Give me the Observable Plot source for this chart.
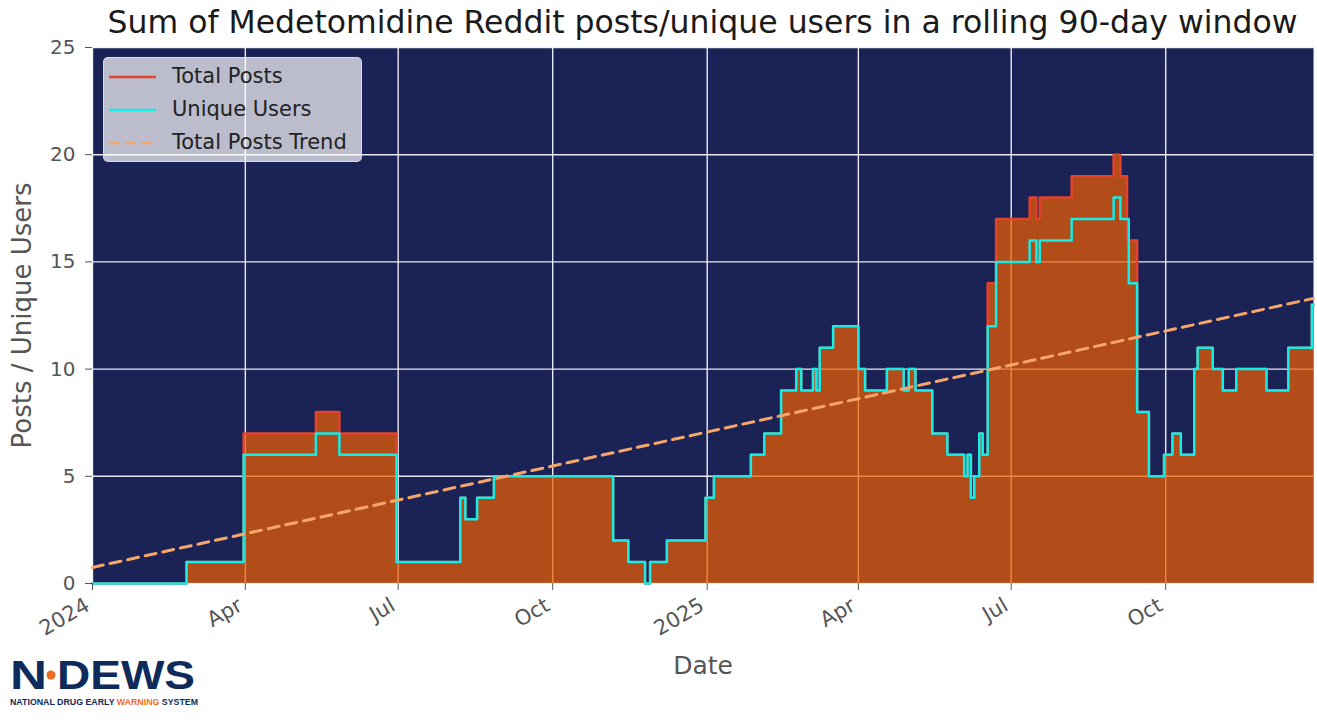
<!DOCTYPE html>
<html>
<head>
<meta charset="utf-8">
<script src="https://cdn.jsdelivr.net/npm/d3@7"></script>
<script src="https://cdn.jsdelivr.net/npm/@observablehq/plot@0.6"></script>
<style>
  html, body { margin: 0; padding: 0; background: #fff; }
  #wrap { position: relative; width: 1317px; height: 721px; overflow: hidden; font-family: "DejaVu Sans", sans-serif; }
  #title { position: absolute; left: 92px; top: 0; width: 1221px; height: 40px; line-height: 44px; text-align: center; font-size: 31.5px; color: #1a1a1a; white-space: nowrap; }
  #chart { position: absolute; left: 0; top: 40px; }
  #legend { position: absolute; left: 103px; top: 57px; width: 259px; height: 105px; background: rgba(255,255,255,0.70); border: 1px solid rgba(230,230,235,0.8); border-radius: 5px; box-sizing: border-box; }
  .row { position: absolute; left: 0; height: 30px; width: 100%; }
  .row svg { position: absolute; left: 4px; top: 8px; }
  .row span { position: absolute; left: 68px; top: 2px; font-size: 21px; color: #222; white-space: nowrap; }
  #logo { position: absolute; left: 0; top: 648px; }
</style>
</head>
<body>
<div id="wrap">
  <div id="title">Sum of Medetomidine Reddit posts/unique users in a rolling 90-day window</div>
  <div id="chart"></div>
  <div id="legend">
    <div class="row" style="top:4px"><svg width="50" height="14"><line x1="1" y1="7" x2="48" y2="7" stroke="#e2432b" stroke-width="2.5"/></svg><span>Total Posts</span></div>
    <div class="row" style="top:37px"><svg width="50" height="14"><line x1="1" y1="7" x2="48" y2="7" stroke="#14ece6" stroke-width="2.5"/></svg><span>Unique Users</span></div>
    <div class="row" style="top:70px"><svg width="50" height="14"><line x1="1" y1="7" x2="48" y2="7" stroke="#f6a66b" stroke-width="2.5" stroke-dasharray="10,6"/></svg><span>Total Posts Trend</span></div>
  </div>
  <svg id="logo" width="220" height="70">
    <text x="10" y="41" font-family="Liberation Sans, Arial, sans-serif" font-weight="bold" font-size="40" fill="#0f2b5b" textLength="37" lengthAdjust="spacingAndGlyphs">N</text>
    <circle cx="51" cy="27" r="4.5" fill="#f26b21"/>
    <text x="57" y="41" font-family="Liberation Sans, Arial, sans-serif" font-weight="bold" font-size="40" fill="#0f2b5b" textLength="138" lengthAdjust="spacingAndGlyphs">DEWS</text>
    <text x="10" y="57" font-family="Liberation Sans, Arial, sans-serif" font-weight="bold" font-size="9" fill="#0f2b5b" textLength="188" lengthAdjust="spacingAndGlyphs">NATIONAL DRUG EARLY <tspan fill="#f26b21">WARNING</tspan> SYSTEM</text>
  </svg>
</div>
<script>
// ---- Data ----
const totalDates = ["2024-01-01","2024-02-26","2024-03-31","2024-05-13","2024-05-27","2024-06-30","2024-08-07","2024-08-10","2024-08-17","2024-08-27","2024-11-06","2024-11-15","2024-11-25","2024-11-28","2024-12-08","2024-12-31","2025-01-05","2025-01-27","2025-02-04","2025-02-14","2025-02-23","2025-02-26","2025-03-05","2025-03-07","2025-03-09","2025-03-17","2025-04-01","2025-04-05","2025-04-18","2025-04-28","2025-05-01","2025-05-05","2025-05-15","2025-05-24","2025-06-03","2025-06-05","2025-06-07","2025-06-09","2025-06-12","2025-06-14","2025-06-17","2025-06-22","2025-07-12","2025-07-16","2025-07-18","2025-08-06","2025-08-31","2025-09-04","2025-09-08","2025-09-14","2025-09-21","2025-09-30","2025-10-05","2025-10-10","2025-10-18","2025-10-20","2025-10-29","2025-11-04","2025-11-12","2025-11-30","2025-12-13","2025-12-27","2025-12-28"];
const totalValues = [0,1,7,8,7,1,4,3,4,5,2,1,0,1,2,4,5,6,7,9,10,9,10,9,11,12,10,9,10,9,10,9,7,6,5,6,4,5,7,6,14,17,18,17,18,19,20,19,16,8,5,6,7,6,10,11,10,9,10,9,11,13,13];

const userDates = ["2024-01-01","2024-02-26","2024-03-31","2024-05-13","2024-05-27","2024-06-30","2024-08-07","2024-08-10","2024-08-17","2024-08-27","2024-11-06","2024-11-15","2024-11-25","2024-11-28","2024-12-08","2024-12-31","2025-01-05","2025-01-27","2025-02-04","2025-02-14","2025-02-23","2025-02-26","2025-03-05","2025-03-07","2025-03-09","2025-03-17","2025-04-01","2025-04-05","2025-04-18","2025-04-28","2025-05-01","2025-05-05","2025-05-15","2025-05-24","2025-06-03","2025-06-05","2025-06-07","2025-06-09","2025-06-12","2025-06-14","2025-06-17","2025-06-22","2025-07-12","2025-07-16","2025-07-18","2025-08-06","2025-08-31","2025-09-04","2025-09-09","2025-09-14","2025-09-21","2025-09-30","2025-10-05","2025-10-10","2025-10-18","2025-10-20","2025-10-29","2025-11-04","2025-11-12","2025-11-30","2025-12-13","2025-12-27","2025-12-28"];
const userValues = [0,1,6,7,6,1,4,3,4,5,2,1,0,1,2,4,5,6,7,9,10,9,10,9,11,12,10,9,10,9,10,9,7,6,5,6,4,5,7,6,12,15,16,15,16,17,18,17,14,8,5,6,7,6,10,11,10,9,10,9,11,13,13];

const trendDates = ["2024-01-01","2025-12-28"];
const trendValues = [0.75, 13.3];

const xTickDates = ["2024-01-01","2024-04-01","2024-07-01","2024-10-01","2025-01-01","2025-04-01","2025-07-01","2025-10-01"];
const xTickLabels = ["2024","Apr","Jul","Oct","2025","Apr","Jul","Oct"];
const yTicks = [0,5,10,15,20,25];

// ---- Build tables ----
const toRows = (dates, values) => dates.map((d, i) => ({date: new Date(d), value: values[i]}));
const total = toRows(totalDates, totalValues);
const users = toRows(userDates, userValues);
const trend = toRows(trendDates, trendValues);
const xTicks = xTickDates.map(d => new Date(d));

const chart = Plot.plot({
  width: 1317,
  height: 681,
  marginTop: 7,
  marginLeft: 92,
  marginRight: 4,
  marginBottom: 138,
  style: {fontFamily: "DejaVu Sans, sans-serif", background: "transparent", color: "#555", overflow: "visible"},
  x: {type: "utc", domain: [new Date("2024-01-01"), new Date("2025-12-28")]},
  y: {domain: [0, 25]},
  marks: [
    Plot.frame({fill: "#1b2255", stroke: null}),
    Plot.ruleY(yTicks, {stroke: "white", strokeWidth: 1.4, strokeOpacity: 0.9}),
    Plot.ruleX(xTicks, {stroke: "white", strokeWidth: 1.4, strokeOpacity: 0.9}),
    Plot.areaY(total, {x: "date", y: "value", curve: "step-after", fill: "#f15f02", fillOpacity: 0.71}),
    Plot.line(total, {x: "date", y: "value", curve: "step-after", stroke: "#e2432b", strokeWidth: 2.5}),
    Plot.line(users, {x: "date", y: "value", curve: "step-after", stroke: "#14ece6", strokeWidth: 2.5}),
    Plot.line(trend, {x: "date", y: "value", stroke: "#f6a66b", strokeWidth: 3, strokeDasharray: "11,7"}),
    Plot.axisY({ticks: yTicks, tickSize: 7, tickPadding: 10, fontSize: 20, label: null}),
    Plot.axisX({ticks: xTicks, tickSize: 7, tickFormat: () => "", label: null}),
    Plot.text(xTicks, {x: d => d, text: (d, i) => xTickLabels[i], frameAnchor: "bottom", rotate: -30, textAnchor: "end", lineAnchor: "top", dx: -9, dy: 13, fontSize: 21, fill: "#555"}),
    Plot.text(["Posts / Unique Users"], {text: d => d, frameAnchor: "left", textAnchor: "middle", rotate: -90, dx: -70, fontSize: 26, fill: "#555"}),
    Plot.text(["Date"], {text: d => d, frameAnchor: "bottom", dy: 90, fontSize: 25, fill: "#555"})
  ]
});
document.getElementById("chart").appendChild(chart);
</script>
</body>
</html>
